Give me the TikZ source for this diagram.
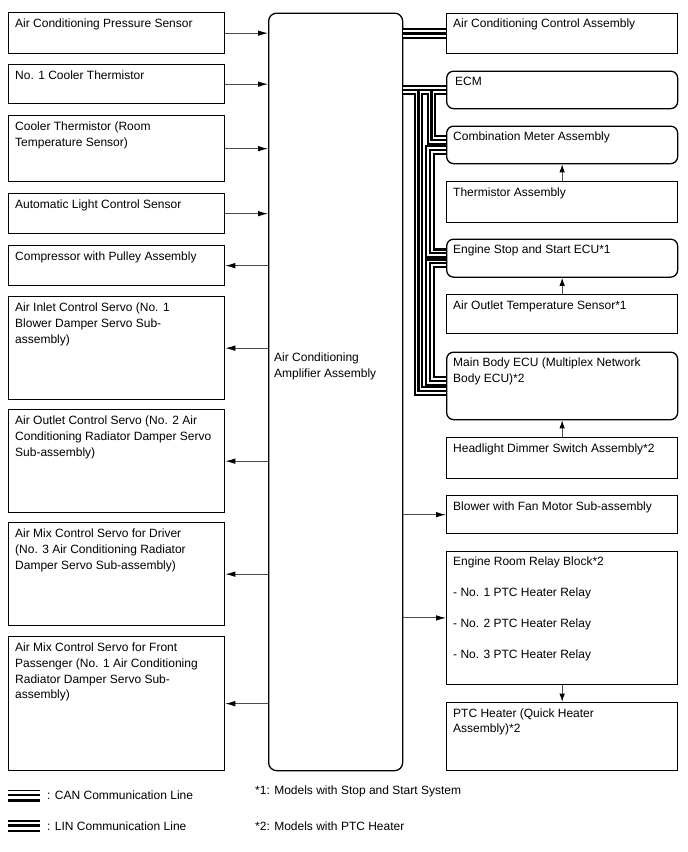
\documentclass[tikz,border=0pt]{standalone}
\usepackage{fontspec}
\setmainfont{Liberation Sans}
\usetikzlibrary{arrows.meta,calc}
\begin{document}
\begin{tikzpicture}[x=1pt,y=-1pt,
  font=\fontsize{12}{15.8}\selectfont,
  lab/.style={anchor=north west, align=left, inner sep=0pt, xshift=7pt, yshift=-6.5pt},
  lbox/.style={draw, line width=1.3pt, anchor=north west, inner sep=0pt, minimum width=216pt, minimum height=#1},
  rbox/.style={draw, line width=1.3pt, anchor=north west, inner sep=0pt, minimum width=231pt, minimum height=#1},
  rr/.style={rounded corners=7pt},
  arr/.style={draw=black!70, line width=0.9pt, -{Latex[length=10pt,width=5.5pt,color=black]}},
  varr/.style={draw=black!70, line width=0.9pt, -{Latex[length=8pt,width=5.5pt,color=black]}}
]
\useasboundingbox (0,0) rectangle (688,852);

% central amplifier
\node[draw, line width=1.3pt, rounded corners=8pt, anchor=north west, inner sep=0pt,
      minimum width=134pt, minimum height=757.5pt] (amp) at (268,12.5) {};
\node[anchor=west, align=left, inner sep=0pt] (amptxt) at (274,366) {Air Conditioning\\Amplifier Assembly};

% left boxes
\node[lbox=41,  label={[lab]north west:{Air Conditioning Pressure Sensor}}] (b1) at (8,12) {};
\node[lbox=39,  label={[lab]north west:{No. 1 Cooler Thermistor}}] (b2) at (8,64) {};
\node[lbox=66,  label={[lab]north west:{Cooler Thermistor (Room\\Temperature Sensor)}}] (b3) at (8,115) {};
\node[lbox=40,  label={[lab]north west:{Automatic Light Control Sensor}}] (b4) at (8,193) {};
\node[lbox=40,  label={[lab]north west:{Compressor with Pulley Assembly}}] (b5) at (8,245) {};
\node[lbox=103, label={[lab]north west:{Air Inlet Control Servo (No. 1\\Blower Damper Servo Sub-\\assembly)}}] (b6) at (8,296) {};
\node[lbox=103, label={[lab]north west:{Air Outlet Control Servo (No. 2 Air\\Conditioning Radiator Damper Servo\\Sub-assembly)}}] (b7) at (8,409) {};
\node[lbox=103, label={[lab]north west:{Air Mix Control Servo for Driver\\(No. 3 Air Conditioning Radiator\\Damper Servo Sub-assembly)}}] (b8) at (8,522) {};
\node[lbox=134, label={[lab]north west:{Air Mix Control Servo for Front\\Passenger (No. 1 Air Conditioning\\Radiator Damper Servo Sub-\\assembly)}}] (b9) at (8,636) {};

% right boxes
\node[rbox=40.5, label={[lab]north west:{Air Conditioning Control Assembly}}] (r1) at (446,12.5) {};
\node[rbox=37.5, rr, label={[lab,xshift=2pt]north west:{ECM}}] (r2) at (446,70.5) {};
\node[rbox=37.5, rr, label={[lab]north west:{Combination Meter Assembly}}] (r3) at (446,125.5) {};
\node[rbox=40.5, label={[lab]north west:{Thermistor Assembly}}] (r4) at (446,181) {};
\node[rbox=38, rr, label={[lab]north west:{Engine Stop and Start ECU*1}}] (r5) at (446,238.5) {};
\node[rbox=39, label={[lab]north west:{Air Outlet Temperature Sensor*1}}] (r6) at (446,294) {};
\node[rbox=67.5, rr, label={[lab]north west:{Main Body ECU (Multiplex Network\\Body ECU)*2}}] (r7) at (446,351.5) {};
\node[rbox=41, label={[lab]north west:{Headlight Dimmer Switch Assembly*2}}] (r8) at (446,437) {};
\node[rbox=38, label={[lab]north west:{Blower with Fan Motor Sub-assembly}}] (r9) at (446,495) {};
\node[rbox=133.5, label={[lab]north west:{Engine Room Relay Block*2\\[15pt]- No. 1 PTC Heater Relay\\[15pt]- No. 2 PTC Heater Relay\\[15pt]- No. 3 PTC Heater Relay}}] (r10) at (446,550.5) {};
\node[rbox=68.3, label={[lab]north west:{PTC Heater (Quick Heater\\Assembly)*2}}] (r11) at (446,701.7) {};

% left arrows
\draw[arr] (b1.east) -- (b1.east -| amp.west);
\draw[arr] (b2.east) -- (b2.east -| amp.west);
\draw[arr] (b3.east) -- (b3.east -| amp.west);
\draw[arr] (b4.east) -- (b4.east -| amp.west);
\draw[arr] (b5.east -| amp.west) -- (b5.east);
\draw[arr] (b6.east -| amp.west) -- (b6.east);
\draw[arr] (b7.east -| amp.west) -- (b7.east);
\draw[arr] (b8.east -| amp.west) -- (b8.east);
\draw[arr] (b9.east -| amp.west) -- (b9.east);

% right arrows
\draw[arr] (amp.east |- r9.west) -- (r9.west);
\draw[arr] (amp.east |- r10.west) -- (r10.west);
\draw[varr] (r4.north) -- (r3.south);
\draw[varr] (r6.north) -- (r5.south);
\draw[varr] (r8.north) -- (r7.south);
\draw[varr] (r10.south) -- (r11.north);

% LIN line
\foreach \w/\c in {10.5pt/black,6.5pt/white,3.6pt/black}
  \draw[line width=\w, \c] (amp.east |- r1.west) -- (r1.west);

% CAN bus lines
\coordinate (cj) at (amp.east |- r2.west);
\foreach \w/\c in {9.5pt/black,5.2pt/white,2.6pt/black}{
  \draw[line width=\w, \c, line join=miter] (cj) -- (r2.west);
  \draw[line width=\w, \c, line join=miter] ($(cj)+(15,0)$) |- ($(r7.west)+(0,5)$);
  \draw[line width=\w, \c, line join=miter] ($(cj)+(28,0)$) |- ($(r3.west)+(0,-5)$);
  \draw[line width=\w, \c, line join=miter] ($(r3.west)+(0,5)$) -- ($(r3.west)+(-16,5)$) |- ($(r5.west)+(0,-5)$);
  \draw[line width=\w, \c, line join=miter] ($(r5.west)+(0,5)$) -- ($(r5.west)+(-16,5)$) |- ($(r7.west)+(0,-5)$);
}

% legend
\coordinate (lc) at (8,790.5);
\coordinate (lc2) at (40,790.5);
\draw[line width=1.8pt] (lc) -- (lc2);
\draw[line width=1.8pt] ($(lc)+(0,4.6)$) -- ($(lc2)+(0,4.6)$);
\draw[line width=3pt] ($(lc)+(0,9.5)$) -- ($(lc2)+(0,9.5)$);
\node[anchor=west, inner sep=0pt] (cantxt) at (47,795) {: CAN Communication Line};
\coordinate (ll) at (8,821);
\coordinate (ll2) at (40,821);
\draw[line width=1.8pt] (ll) -- (ll2);
\draw[line width=3pt] ($(ll)+(0,4.8)$) -- ($(ll2)+(0,4.8)$);
\draw[line width=1.8pt] ($(ll)+(0,9.6)$) -- ($(ll2)+(0,9.6)$);
\node[anchor=west, inner sep=0pt] (lintxt) at (47,826) {: LIN Communication Line};
\node[anchor=west, inner sep=0pt] (n1) at (255,791) {*1: Models with Stop and Start System};
\node[anchor=west, inner sep=0pt] (n2) at (255,826) {*2: Models with PTC Heater};
\end{tikzpicture}
\end{document}
